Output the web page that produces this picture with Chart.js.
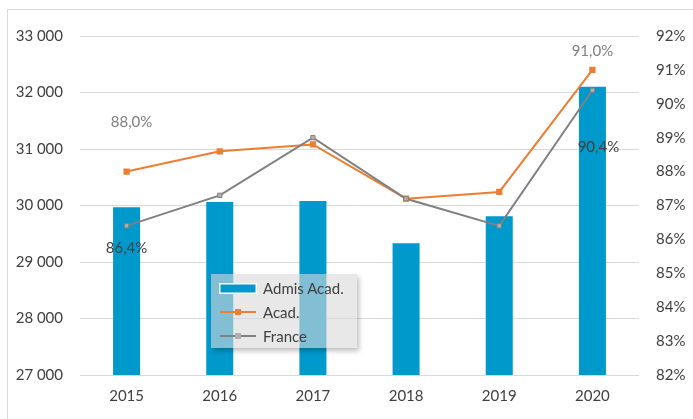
<!DOCTYPE html>
<html>
<head>
<meta charset="utf-8">
<script src="https://cdn.jsdelivr.net/npm/chart.js@4.4.1/dist/chart.umd.min.js"></script>
<style>
  html, body { margin: 0; padding: 0; background: #fff; }
  #wrap { position: relative; width: 693px; height: 419px; }
  #legend {
    position: absolute; left: 211px; top: 274px; width: 146px; height: 74px;
    background: rgba(217, 217, 217, 0.6);
    box-shadow: 2px 3px 5px rgba(0, 0, 0, 0.25);
    font-family: Lato, "Open Sans", sans-serif; font-size: 15px; color: #404040;
  }
  .item { position: absolute; left: 8px; height: 24px; display: flex; align-items: center; }
  .item span { margin-left: 6px; }
</style>
</head>
<body>
<div id="wrap">
  <canvas id="chart" width="693" height="419"></canvas>
  <div id="legend"></div>
</div>
<script>
const years = ['2015', '2016', '2017', '2018', '2019', '2020'];
const admisAcad = [29970, 30060, 30080, 29330, 29810, 32100];
const tauxAcad = [88.0, 88.6, 88.8, 87.2, 87.4, 91.0];
const tauxFrance = [86.4, 87.3, 89.0, 87.2, 86.4, 90.4];
const leftTicks = [27000, 28000, 29000, 30000, 31000, 32000, 33000];
const rightTicks = [82, 83, 84, 85, 86, 87, 88, 89, 90, 91, 92];

const blue = '#0099cc';
const orange = '#ed7d31';
const grey = '#808080';
const font = { family: 'Lato, "Open Sans", sans-serif', size: 15 };

const fmtThousands = v => String(v).replace(/\B(?=(\d{3})+(?!\d))/g, '\u202f');
const fmtPct = v => v.toFixed(1).replace('.', ',') + '%';

// frame lines (top and left) like the original picture
const framePlugin = {
  id: 'frame',
  beforeDraw(chart) {
    const c = chart.ctx;
    c.save();
    c.strokeStyle = '#d9d9d9';
    c.lineWidth = 1;
    c.beginPath();
    c.moveTo(7.5, 419);
    c.lineTo(7.5, 9.5);
    c.lineTo(693, 9.5);
    c.stroke();
    c.restore();
  }
};

// a few data labels, placed like in the source
const labelPlugin = {
  id: 'pointLabels',
  afterDatasetsDraw(chart, args, opts) {
    const c = chart.ctx;
    c.save();
    c.font = font.size + 'px ' + font.family;
    c.textAlign = 'center';
    c.textBaseline = 'middle';
    opts.items.forEach(it => {
      const el = chart.getDatasetMeta(it.dataset).data[it.index];
      const val = chart.data.datasets[it.dataset].data[it.index];
      c.fillStyle = it.color;
      c.fillText(fmtPct(val), el.x + it.dx, el.y + it.dy);
    });
    c.restore();
  }
};

const chart = new Chart(document.getElementById('chart'), {
  type: 'bar',
  data: {
    labels: years,
    datasets: [
      {
        label: 'Admis Acad.',
        data: admisAcad,
        backgroundColor: blue,
        yAxisID: 'y',
        categoryPercentage: 1,
        barPercentage: 0.29,
        order: 2
      },
      {
        label: 'Acad.',
        type: 'line',
        data: tauxAcad,
        borderColor: orange,
        backgroundColor: orange,
        borderWidth: 2,
        pointStyle: 'rect',
        pointRadius: 3,
        yAxisID: 'y1',
        order: 1
      },
      {
        label: 'France',
        type: 'line',
        data: tauxFrance,
        borderColor: grey,
        backgroundColor: '#b0b0b0',
        borderWidth: 2,
        pointStyle: 'rect',
        pointRadius: 3,
        pointBorderWidth: 1,
        yAxisID: 'y1',
        order: 0
      }
    ]
  },
  options: {
    responsive: false,
    animation: false,
    layout: { padding: { top: 36, left: 0, right: 0, bottom: 0 } },
    plugins: {
      legend: { display: false },
      tooltip: { enabled: false },
      pointLabels: {
        items: [
          { dataset: 1, index: 0, dx: 5, dy: -49, color: '#7f7f7f' },
          { dataset: 1, index: 5, dx: 0, dy: -19, color: '#7f7f7f' },
          { dataset: 2, index: 0, dx: 0, dy: 22, color: '#404040' },
          { dataset: 2, index: 5, dx: 6, dy: 57, color: '#404040' }
        ]
      }
    },
    scales: {
      x: {
        grid: { display: false, drawTicks: false },
        border: { display: false },
        ticks: { color: '#404040', font: font, padding: 12 },
        afterFit(s) { s.height = 44; }
      },
      y: {
        position: 'left',
        min: leftTicks[0],
        max: leftTicks[leftTicks.length - 1],
        afterBuildTicks(s) { s.ticks = leftTicks.map(v => ({ value: v })); },
        grid: { color: '#d9d9d9', drawTicks: false },
        border: { display: false },
        ticks: { color: '#404040', font: font, padding: 17, callback: v => fmtThousands(v) },
        afterFit(s) { s.width = 80; }
      },
      y1: {
        position: 'right',
        min: rightTicks[0],
        max: rightTicks[rightTicks.length - 1],
        afterBuildTicks(s) { s.ticks = rightTicks.map(v => ({ value: v })); },
        grid: { display: false, drawTicks: false },
        border: { display: false },
        ticks: { color: '#404040', font: font, padding: 17, callback: v => v + '%' },
        afterFit(s) { s.width = 54; }
      }
    }
  },
  plugins: [framePlugin, labelPlugin]
});

// html legend built from the chart datasets
const legend = document.getElementById('legend');
chart.data.datasets.forEach((ds, i) => {
  const item = document.createElement('div');
  item.className = 'item';
  item.style.top = (2 + i * 24) + 'px';
  const sample = document.createElement('canvas');
  sample.width = 38; sample.height = 12;
  const c = sample.getContext('2d');
  if (!ds.type) {
    c.fillStyle = '#fff';
    c.fillRect(0, 1, 38, 11);
    c.fillStyle = ds.backgroundColor;
    c.fillRect(1.5, 2.5, 35, 8);
  } else {
    c.strokeStyle = ds.borderColor;
    c.lineWidth = 2;
    c.beginPath(); c.moveTo(1, 6); c.lineTo(37, 6); c.stroke();
    c.fillStyle = ds.backgroundColor;
    c.fillRect(16, 3, 6, 6);
  }
  item.appendChild(sample);
  const txt = document.createElement('span');
  txt.textContent = ds.label;
  item.appendChild(txt);
  legend.appendChild(item);
});
</script>
</body>
</html>
